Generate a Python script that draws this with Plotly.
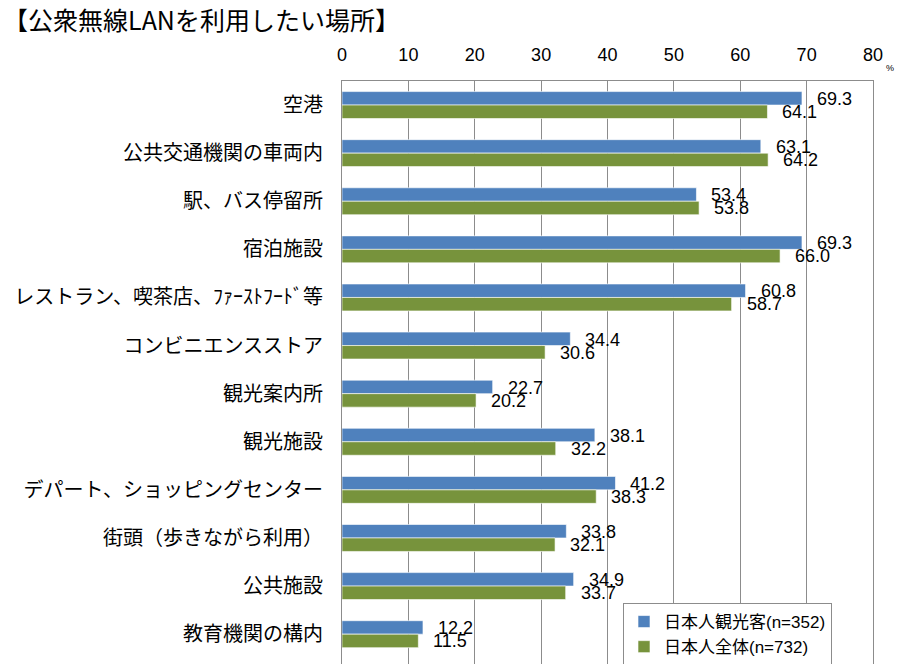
import plotly.graph_objects as go

categories = [
    "空港",
    "公共交通機関の車両内",
    "駅、バス停留所",
    "宿泊施設",
    "レストラン、喫茶店、ﾌｧｰｽﾄﾌｰﾄﾞ等",
    "コンビニエンスストア",
    "観光案内所",
    "観光施設",
    "デパート、ショッピングセンター",
    "街頭（歩きながら利用）",
    "公共施設",
    "教育機関の構内",
]
tourists = [69.3, 63.1, 53.4, 69.3, 60.8, 34.4, 22.7, 38.1, 41.2, 33.8, 34.9, 12.2]
all_japanese = [64.1, 64.2, 53.8, 66.0, 58.7, 30.6, 20.2, 32.2, 38.3, 32.1, 33.7, 11.5]
series_names = ["日本人観光客(n=352)", "日本人全体(n=732)"]
x_ticks = [0, 10, 20, 30, 40, 50, 60, 70, 80]

BLUE = "#4F81BD"
GREEN = "#77933C"
GRID = "#8C8C8C"
FONT = "Liberation Sans, Arial, Noto Sans CJK JP, sans-serif"

W, H = 914, 664
L, R, T, B = 342, 41, 81, 0
PW, PH = W - L - R, H - T - B


def px_x(x):
    return (x - L) / PW


def px_y(y):
    return 1 - (y - T) / PH


fig = go.Figure()
fig.add_trace(go.Bar(
    y=categories, x=tourists, orientation="h", name=series_names[0],
    marker=dict(color=BLUE, line=dict(color="rgba(255,255,255,0.6)", width=1)),
))
fig.add_trace(go.Bar(
    y=categories, x=all_japanese, orientation="h", name=series_names[1],
    marker=dict(color=GREEN, line=dict(color="rgba(255,255,255,0.6)", width=1)),
))

annotations = []
for cat, v1, v2 in zip(categories, tourists, all_japanese):
    annotations.append(dict(x=v1, y=cat, xref="x", yref="y", text=f"{v1:.1f}",
                            showarrow=False, xanchor="left", yanchor="middle",
                            xshift=13, yshift=6, font=dict(size=18, color="#000")))
    annotations.append(dict(x=v2, y=cat, xref="x", yref="y", text=f"{v2:.1f}",
                            showarrow=False, xanchor="left", yanchor="middle",
                            xshift=13, yshift=-7, font=dict(size=18, color="#000")))

annotations.append(dict(x=px_x(884), y=px_y(68), xref="paper", yref="paper", text="%",
                        showarrow=False, font=dict(size=9, color="#000"),
                        xanchor="left", yanchor="middle"))
annotations.append(dict(x=px_x(1), y=px_y(19), xref="paper", yref="paper",
                        text="【公衆無線LANを利用したい場所】",
                        showarrow=False, xanchor="left", yanchor="middle",
                        font=dict(size=25, family="Noto Sans CJK JP, sans-serif", color="#000")))

fig.update_layout(
    width=W, height=H,
    paper_bgcolor="white", plot_bgcolor="white",
    font=dict(family=FONT, color="#000", size=18),
    margin=dict(l=L, r=R, t=T, b=B, pad=0, autoexpand=False),
    barmode="group", bargap=0.44, bargroupgap=0,
    showlegend=True,
    legend=dict(
        x=px_x(623), y=px_y(603), xanchor="left", yanchor="top",
        traceorder="normal",
        bgcolor="white", bordercolor=GRID, borderwidth=1,
        font=dict(size=17, family=FONT),
        itemwidth=30, tracegroupgap=0,
    ),
    annotations=annotations,
)

fig.update_xaxes(
    side="top", range=[0, 80], tickvals=x_ticks, ticktext=[str(t) for t in x_ticks],
    showgrid=True, gridcolor=GRID, gridwidth=1,
    showline=True, linecolor=GRID, linewidth=1, mirror=True,
    ticks="", ticklabelstandoff=12, tickfont=dict(size=18), zeroline=False,
    automargin=False,
)
fig.update_yaxes(
    range=[11.62, -0.5], showgrid=False,
    showline=True, linecolor=GRID, linewidth=1, mirror=True,
    ticks="", ticklabelstandoff=14, tickfont=dict(size=20, family=FONT),
    automargin=False,
)

fig.write_html("out.html", config={"displayModeBar": False},
               post_script="document.body.style.margin='0';")
